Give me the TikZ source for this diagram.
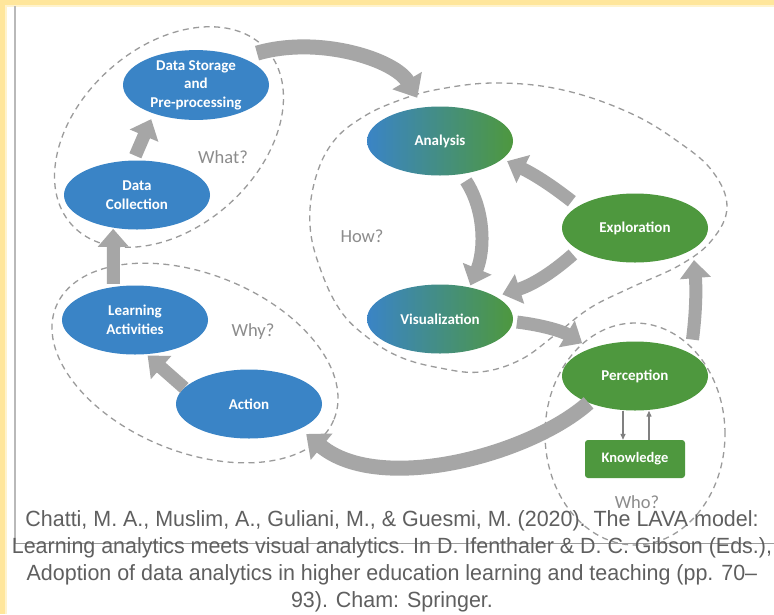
\documentclass[tikz,border=0pt]{standalone}
\usepackage{fontspec}
\setmainfont{Carlito}
\newfontfamily\capfont[FakeStretch=0.975]{Liberation Sans}
\usetikzlibrary{arrows.meta,shapes.geometric}

\definecolor{lavablue}{RGB}{58,132,198}
\definecolor{lavagreen}{RGB}{78,152,62}
\definecolor{flowgray}{RGB}{166,166,166}
\definecolor{zonegray}{RGB}{155,155,155}
\definecolor{asktext}{RGB}{140,140,140}
\definecolor{captext}{RGB}{95,95,95}
\definecolor{linkgray}{RGB}{128,128,128}
\definecolor{paper}{RGB}{255,230,155}
\definecolor{paperlight}{RGB}{255,243,205}
\definecolor{framegray}{RGB}{185,185,185}

\begin{document}
\begin{tikzpicture}[x=1pt,y=-1pt,
  stage/.style={ellipse, minimum width=146pt, minimum height=69pt, inner sep=0pt,
    text=white, font=\fontsize{15}{18.5}\selectfont\bfseries, align=center},
  bluestage/.style={stage, fill=lavablue},
  greenstage/.style={stage, fill=lavagreen},
  mixstage/.style={stage, left color=lavablue, right color=lavagreen},
  knowbox/.style={rectangle, rounded corners=3pt, fill=lavagreen, minimum width=100pt,
    minimum height=38pt, inner sep=0pt, text=white, font=\fontsize{14.5}{18}\selectfont\bfseries},
  zone/.style={draw=zonegray, line width=1.3pt, dash pattern=on 6pt off 4.5pt},
  ask/.style={text=asktext, font=\fontsize{18.5}{20}\selectfont},
  flow/.style={draw=flowgray, line width=13pt, -{Triangle[length=18pt,width=30pt]}},
  bigflow/.style={draw=flowgray, line width=15pt, -{Triangle[length=20pt,width=33pt]}},
  link/.style={draw=linkgray, line width=1.3pt, -{Triangle[length=6pt,width=5pt]}},
  capline/.style={anchor=base, inner sep=0pt, text=captext, font=\capfont\fontsize{22}{27}\selectfont}
]
\useasboundingbox (0,0) rectangle (774,614);
\fill[white] (0,0) rectangle (774,614);

% page frame
\fill[paperlight] (0,0) rectangle (774,7);
\fill[paperlight] (0,0) rectangle (7,614);
\fill[paper] (0,0) rectangle (774,4.5);
\fill[paper] (0,0) rectangle (4.5,614);
\draw[framegray, line width=1.8pt] (15,6) -- (15,543);
\draw[framegray!85!black, line width=0.9pt] (15,543) -- (774,543);

% question zones
\draw[zone, rotate around={42:(169,137)}] (169,137) ellipse [x radius=131pt, y radius=90pt];
\draw[zone, rotate around={-22:(195,363)}] (195,363) ellipse [x radius=150pt, y radius=89pt];
\draw[zone] (635,434) ellipse [x radius=90pt, y radius=111pt];
\draw[zone] plot[smooth cycle, tension=0.65] coordinates {
  (310,225) (315,180) (333,142) (363,117) (400,100) (440,89) (497,83) (563,90)
  (630,113) (680,143) (713,172) (727,207) (712,240) (680,265) (630,288) (590,308)
  (555,335) (520,360) (480,372) (440,368) (400,357) (367,337) (340,310) (320,268)};

\node[ask] (what) at (223,157) {What?};
\node[ask] (how) at (362,236) {How?};
\node[ask] (why) at (253,332) {Why?};
\node[ask] (who) at (637,502) {Who?};

% stages
\node[bluestage] (ds) at (196,85) {Data Storage\\and\\Pre-processing};
\node[bluestage] (dc) at (137,195) {Data\\Collection};
\node[bluestage] (la) at (135,320) {Learning\\Activities};
\node[bluestage] (act) at (249,404) {Action};
\node[mixstage] (ana) at (440,141) {Analysis};
\node[mixstage] (vis) at (440,319) {Visualization};
\node[greenstage] (exp) at (635,228) {Exploration};
\node[greenstage] (perc) at (635,376) {Perception};
\node[knowbox] (know) at (635,459) {Knowledge};

% cycle arrows
\draw[bigflow, shorten <=16pt, shorten >=11pt] (ds.31) .. controls (320,35) and (395,60) .. (ana.117);
\draw[flow, shorten <=8pt, shorten >=2pt] (ana.303) .. controls (485,210) and (485,250) .. (vis.47);
\draw[flow, shorten <=8pt, shorten >=5pt] (exp.159) to[bend right=6] (ana.344);
\draw[flow, shorten <=7pt, shorten >=7pt] (exp.201) to[bend left=12] (vis.22);
\draw[flow, shorten <=4pt, shorten >=10pt] (vis.-2) to[bend left=12] (perc.148);
\draw[flow, shorten <=14pt, shorten >=11pt] (perc.22) to[bend right=6] (exp.340);
\draw[bigflow, shorten >=8pt] (perc.210) .. controls (530,455) and (380,495) .. (act.334);
\draw[flow, shorten >=2pt] (act.166) -- (la.288);
\draw[flow, shorten <=3pt, shorten >=1pt] (la.123) -- (dc.234);
\draw[flow, shorten <=5pt, shorten >=6pt] (dc.96) -- (ds.214);

% perception and knowledge
\draw[link] ([xshift=-12pt]perc.south) -- ([xshift=-12pt]know.north);
\draw[link] ([xshift=14pt]know.north) -- ([xshift=14pt]perc.south);

% reference
\node[capline] (cap1) at (392,526) {Chatti, M. A., Muslim, A., Guliani, M., \& Guesmi, M. (2020). The LAVA model:};
\node[capline] (cap2) at (392,553) {Learning analytics meets visual analytics. In D. Ifenthaler \& D. C. Gibson (Eds.),};
\node[capline] (cap3) at (392,580) {Adoption of data analytics in higher education learning and teaching (pp. 70–};
\node[capline] (cap4) at (392,607) {93). Cham: Springer.};
\end{tikzpicture}
\end{document}
